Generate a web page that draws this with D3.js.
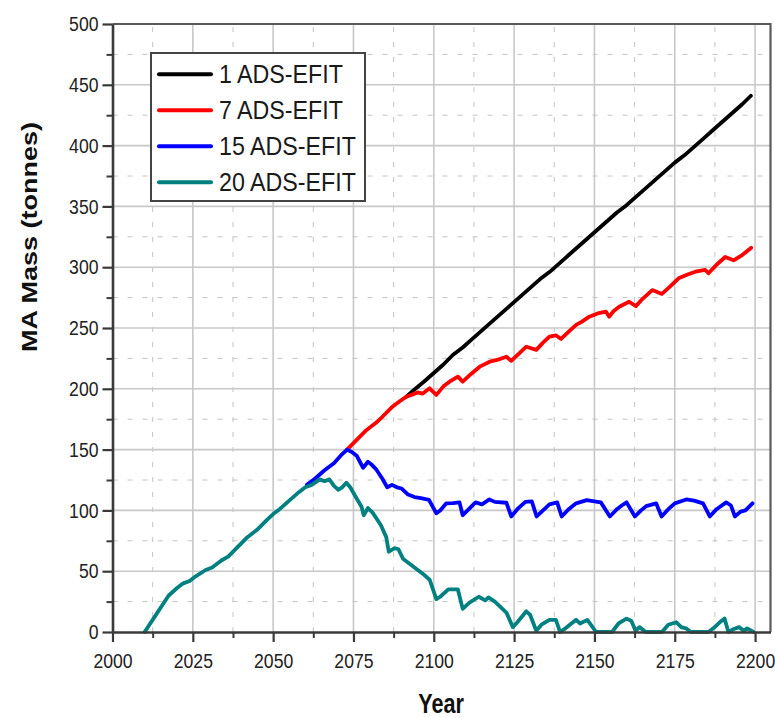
<!DOCTYPE html>
<html>
<head>
<meta charset="utf-8">
<script src="https://cdn.jsdelivr.net/npm/d3@7"></script>
<style>
  body { margin: 0; background: #fff; }
  text { font-family: "Liberation Sans", Arial, sans-serif; }
</style>
</head>
<body>
<script>
// series names and colours (legend order)
const seriesNames = ["1 ADS-EFIT", "7 ADS-EFIT", "15 ADS-EFIT", "20 ADS-EFIT"];
const seriesColors = ["#000000", "#ff0000", "#0000ff", "#008080"];

// tick values
const xTicks = [2000, 2025, 2050, 2075, 2100, 2125, 2150, 2175, 2200];
const yTicks = [0, 50, 100, 150, 200, 250, 300, 350, 400, 450, 500];

// 1 ADS-EFIT (splits from the 7 ADS line around 2091)
const years1 = [2091.5, 2094, 2097, 2100, 2103, 2106, 2109, 2112, 2115, 2118, 2121, 2124, 2127, 2130, 2133, 2136, 2139, 2142, 2145, 2148, 2151, 2154, 2157, 2160, 2163, 2166, 2169, 2172, 2175, 2178, 2181, 2184, 2187, 2190, 2193, 2196, 2198.7];
const mass1 = [193.5, 199.5, 206, 213, 220, 228, 234, 241, 248, 255, 262, 269, 276, 283, 290, 296, 303, 310, 317, 324, 331, 338, 345, 351, 358, 365, 372, 379, 386, 392, 399, 406, 413, 420, 427, 434, 441];

// 7 ADS-EFIT (splits from the 15 ADS line around 2073)
const years7 = [2073, 2076, 2079, 2082, 2084, 2087, 2089.5, 2091.5, 2093, 2095, 2096.5, 2098.7, 2100.8, 2103, 2104.9, 2107.5, 2109, 2111.5, 2114.3, 2117.4, 2120, 2122.6, 2124.1, 2126.5, 2128.8, 2131.9, 2134, 2136, 2138, 2139.6, 2142, 2144.3, 2146, 2148.4, 2151, 2153.6, 2154.6, 2156, 2157.7, 2160.8, 2162.9, 2165, 2168, 2171, 2173.5, 2176.2, 2179, 2181.4, 2184.5, 2185.5, 2188, 2190.7, 2193.3, 2196, 2198.8];
const mass7 = [150, 158, 166, 172, 177, 185, 190, 193.5, 195, 197, 196, 200.4, 195, 202, 205.9, 210, 205.9, 212, 218.2, 222.3, 224, 226.4, 223, 229, 234.6, 232, 238, 242.9, 244, 241, 247, 252.5, 255, 259.3, 262, 263.4, 259.3, 264, 267.5, 271.6, 268, 274, 281.2, 278, 284, 290.9, 294, 296.3, 297.7, 295, 302, 308.4, 305.7, 310, 316];

// 15 ADS-EFIT (splits from the 20 ADS line around 2061)
const years15 = [2060.5, 2063, 2066, 2069, 2071, 2073, 2074.5, 2076, 2077, 2078, 2079.5, 2080.5, 2082, 2084, 2085.5, 2087, 2088.5, 2090, 2092, 2094, 2096, 2098.5, 2100.8, 2102, 2103.9, 2106, 2108, 2109, 2110.5, 2113, 2115, 2117.3, 2119, 2122.6, 2124.1, 2126, 2128.5, 2130.5, 2132, 2134, 2136, 2138.4, 2139.8, 2142, 2144.3, 2147.6, 2150, 2152, 2154.8, 2157, 2158.5, 2160, 2162.6, 2164.5, 2166.1, 2169.2, 2170.9, 2173, 2175, 2178.6, 2181, 2183.8, 2185.9, 2188, 2191, 2192.5, 2193.7, 2195.5, 2197, 2199.2];
const mass15 = [121, 126, 133, 139, 145, 150, 148, 145, 140, 135, 140, 138, 134, 126, 119, 121, 119, 118, 113, 111, 110, 108.6, 97.6, 100, 105.8, 106, 106.6, 96, 100, 106.6, 105, 109, 107, 106.3, 95, 101, 107, 107.5, 95, 100, 105, 106.6, 95, 101, 105.8, 108.5, 107.5, 106.6, 95, 101, 104, 106.6, 95, 100, 103.5, 105.8, 95, 101, 105.8, 109, 108, 105.8, 95, 101, 106.6, 104, 95, 99, 100, 105.8];

// 20 ADS-EFIT
const years20 = [2010, 2013, 2016, 2017.5, 2020, 2022, 2024, 2026, 2029, 2031, 2034, 2036, 2039, 2042, 2045, 2048, 2050, 2052, 2055, 2058, 2060, 2062, 2064.5, 2066, 2067.5, 2069, 2070.3, 2071.5, 2072.8, 2074, 2075.5, 2077.5, 2078.2, 2079.5, 2081, 2083.5, 2085.2, 2086, 2087.8, 2089, 2090.5, 2093.5, 2095, 2097, 2098.7, 2100.8, 2102, 2104.5, 2107.5, 2109, 2111, 2114, 2116, 2117, 2119, 2122.6, 2124.6, 2126, 2128.8, 2130, 2131.9, 2133.5, 2136, 2138, 2139.3, 2141, 2144.3, 2145.5, 2147.8, 2150.5, 2155.5, 2157.5, 2160, 2161.5, 2162.8, 2164, 2166, 2171, 2173, 2175.5, 2177, 2178.5, 2180, 2185.5, 2187, 2189, 2190.5, 2191.7, 2193, 2195, 2196.5, 2197.5, 2199.5];
const mass20 = [0, 12, 24, 30, 36, 40, 42, 46, 51, 53, 59, 62, 70, 78, 84, 92, 97, 101, 108, 115, 119, 121, 125.5, 124, 125.5, 120, 117, 119, 122.8, 119, 112, 103, 96, 102, 98, 88, 78, 66, 69, 68, 60, 54, 51, 47, 43, 27, 29, 35, 35, 19, 24, 29, 26, 28.5, 25, 16, 4, 8, 17, 14, 1, 6, 10, 10, 0, 3, 10, 7, 10, 0, 0, 7, 11, 9, 1, 4, 0, 0, 6, 8, 4, 3, 0, 0, 3, 8, 11, 0, 2, 4, 1, 3, 0];

const seriesYears = [years1, years7, years15, years20];
const seriesMass = [mass1, mass7, mass15, mass20];

const width = 775, height = 718;
const x = d3.scaleLinear().domain([2000, 2204.8]).range([112.5, 770.5]);
const y = d3.scaleLinear().domain([0, 500]).range([632, 24]);

const minorX = d3.range(2012.5, 2200, 25);
const minorY = d3.range(25, 500, 50);

const svg = d3.select("body").append("svg")
    .attr("width", width)
    .attr("height", height);

// minor grid (dashed)
const grid = svg.append("g");
grid.selectAll(".mgy").data(minorY).join("line")
    .attr("x1", x.range()[0]).attr("x2", x.range()[1])
    .attr("y1", d => y(d)).attr("y2", d => y(d))
    .attr("stroke", "#c4c4c4").attr("stroke-dasharray", "5,10");
grid.selectAll(".mgx").data(minorX).join("line")
    .attr("x1", d => x(d)).attr("x2", d => x(d))
    .attr("y1", y.range()[0]).attr("y2", y.range()[1])
    .attr("stroke", "#c4c4c4").attr("stroke-dasharray", "5,10");

// major grid
grid.selectAll(".gy").data(yTicks.slice(1, -1)).join("line")
    .attr("x1", x.range()[0]).attr("x2", x.range()[1])
    .attr("y1", d => y(d)).attr("y2", d => y(d))
    .attr("stroke", "#c8c8c8").attr("stroke-width", 1.6);
grid.selectAll(".gx").data(xTicks.slice(1)).join("line")
    .attr("x1", d => x(d)).attr("x2", d => x(d))
    .attr("y1", y.range()[0]).attr("y2", y.range()[1])
    .attr("stroke", "#c8c8c8").attr("stroke-width", 1.6);

// frame (top and right)
svg.append("path")
    .attr("d", `M${x.range()[0]},${y.range()[1]}H${x.range()[1]}V${y.range()[0]}`)
    .attr("fill", "none").attr("stroke", "#5a5a5a").attr("stroke-width", 2.2);

// lines
const line = d3.line().x(d => x(d[0])).y(d => y(d[1]));
svg.append("g").selectAll("path")
    .data(seriesNames.map((n, i) => d3.zip(seriesYears[i], seriesMass[i])))
    .join("path")
    .attr("d", line)
    .attr("fill", "none")
    .attr("stroke", (d, i) => seriesColors[i])
    .attr("stroke-width", 3.8)
    .attr("stroke-linejoin", "round")
    .attr("stroke-linecap", "round");

// axes
const sx = 0.84;
function styleAxis(g) {
    g.attr("font-family", null).attr("font-size", null);
    g.select(".domain").attr("stroke", "#3a3a3a").attr("stroke-width", 2.6);
    g.selectAll(".tick line").attr("stroke", "#3a3a3a").attr("stroke-width", 2.2);
    g.selectAll(".tick text").style("font-size", "21px").attr("fill", "#222");
}

svg.append("g")
    .attr("transform", `translate(0,${y.range()[0]})`)
    .call(d3.axisBottom(x).tickValues(minorX).tickSize(6).tickFormat(""))
    .call(g => { g.select(".domain").remove(); g.selectAll(".tick line").attr("stroke", "#3a3a3a").attr("stroke-width", 2); });
svg.append("g")
    .attr("transform", `translate(${x.range()[0]},0)`)
    .call(d3.axisLeft(y).tickValues(minorY).tickSize(6).tickFormat(""))
    .call(g => { g.select(".domain").remove(); g.selectAll(".tick line").attr("stroke", "#3a3a3a").attr("stroke-width", 2); });

const gx = svg.append("g")
    .attr("transform", `translate(0,${y.range()[0]})`)
    .call(d3.axisBottom(x).tickValues(xTicks).tickSize(10).tickSizeOuter(0).tickPadding(11).tickFormat(d3.format("d")))
    .call(styleAxis);
gx.selectAll(".tick text").attr("transform", `scale(${sx},1)`);

const gy = svg.append("g")
    .attr("transform", `translate(${x.range()[0]},0)`)
    .call(d3.axisLeft(y).tickValues(yTicks).tickSize(10).tickSizeOuter(0))
    .call(styleAxis);
gy.selectAll(".tick text").attr("x", -14 / sx).attr("transform", `scale(${sx},1)`);

// axis titles
svg.append("text")
    .attr("transform", "translate(37,237) scale(0.85,1) rotate(-90)")
    .attr("text-anchor", "middle")
    .style("font-size", "27px").style("font-weight", "bold")
    .attr("fill", "#111")
    .text("MA Mass (tonnes)");

svg.append("text")
    .attr("transform", "translate(441,713) scale(0.8,1)")
    .attr("text-anchor", "middle")
    .style("font-size", "27px").style("font-weight", "bold")
    .attr("fill", "#111")
    .text("Year");

// legend
const legend = svg.append("g");
legend.append("rect")
    .attr("x", 151).attr("y", 53).attr("width", 214).attr("height", 148)
    .attr("fill", "#fff").attr("stroke", "#444").attr("stroke-width", 2);
const items = legend.selectAll(".item").data(seriesNames).join("g")
    .attr("transform", (d, i) => `translate(0,${74.3 + i * 36})`);
items.append("line")
    .attr("x1", 159).attr("x2", 211).attr("y1", 0).attr("y2", 0)
    .attr("stroke", (d, i) => seriesColors[i])
    .attr("stroke-width", 4).attr("stroke-linecap", "round");
items.append("text")
    .attr("transform", "translate(219,8.5) scale(0.93,1)")
    .style("font-size", "25px")
    .attr("fill", "#1a1a1a")
    .text(d => d);
</script>
</body>
</html>
